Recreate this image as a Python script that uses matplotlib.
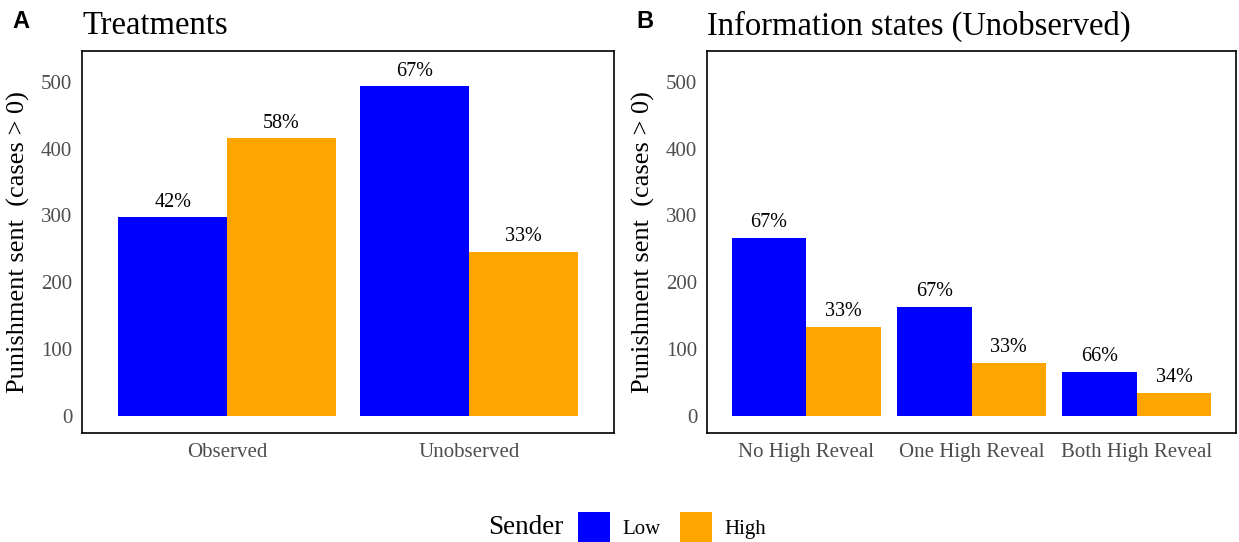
import numpy as np
import matplotlib
matplotlib.use('Agg')
import matplotlib.pyplot as plt
from matplotlib.patches import Patch

# punishment counts by sender type
TREATMENTS = ['Observed', 'Unobserved']
TREAT_LOW = [297, 493]
TREAT_HIGH = [415, 245]

STATES = ['No High Reveal', 'One High Reveal', 'Both High Reveal']
STATE_LOW = [266, 163, 66]
STATE_HIGH = [133, 79, 34]

SENDERS = ['Low', 'High']
COLORS = ['#0000FF', '#FFA500']
YTICKS = [0, 100, 200, 300, 400, 500]

SERIF = 'Liberation Serif'
GREY = '#4D4D4D'


def bar_panel(ax, cats, low, high, title):
    x = np.arange(len(cats))
    w = 0.45
    low = np.asarray(low, dtype=float)
    high = np.asarray(high, dtype=float)
    total = low + high
    for vals, off, col in ((low, -w / 2, COLORS[0]), (high, w / 2, COLORS[1])):
        ax.bar(x + off, vals, width=w, color=col)
        for xi, v, t in zip(x + off, vals, total):
            ax.annotate('{:.0f}%'.format(100 * v / t), (xi, v), xytext=(0, 4),
                        textcoords='offset points', ha='center', va='bottom',
                        family=SERIF, fontsize=14.5, color='black')
    ax.set_xlim(-0.6, len(cats) - 0.4)
    ax.set_ylim(-26, 546)
    ax.set_xticks(x)
    ax.set_xticklabels(cats, family=SERIF, fontsize=15, color=GREY)
    ax.set_yticks(YTICKS)
    ax.set_yticklabels([str(t) for t in YTICKS], family=SERIF, fontsize=15, color=GREY)
    ax.tick_params(length=0, pad=7)
    ax.set_ylabel('Punishment sent  (cases > 0)', family=SERIF, fontsize=19, labelpad=8)
    for s in ax.spines.values():
        s.set_linewidth(1.2)
        s.set_color('black')
    ax.set_title(title, family=SERIF, fontsize=23.5, loc='left', pad=12, x=0.0)
    return ax


fig = plt.figure(figsize=(12.39, 5.42), dpi=100)

ax1 = fig.add_axes([82 / 1239, 109 / 542, 532 / 1239, 382 / 542])
bar_panel(ax1, TREATMENTS, TREAT_LOW, TREAT_HIGH, 'Treatments')

ax2 = fig.add_axes([707 / 1239, 109 / 542, 529 / 1239, 382 / 542])
bar_panel(ax2, STATES, STATE_LOW, STATE_HIGH, 'Information states (Unobserved)')

fig.text(12 / 1239, 1 - 22 / 542, 'A', family='Liberation Sans', weight='bold',
         fontsize=17, va='center', ha='left')
fig.text(636 / 1239, 1 - 22 / 542, 'B', family='Liberation Sans', weight='bold',
         fontsize=17, va='center', ha='left')

# legend along the bottom
handles = [Patch(facecolor=c, edgecolor='none') for c in COLORS]
fig.legend(handles, SENDERS, loc='center left', bbox_to_anchor=(578 / 1239, 1 - 527.5 / 542),
           ncol=2, frameon=False, prop={'family': SERIF, 'size': 15},
           handlelength=1.54, handleheight=1.9, handletextpad=0.6, columnspacing=0.9,
           borderpad=0, borderaxespad=0)
fig.text(563 / 1239, 1 - 527 / 542, 'Sender', family=SERIF, fontsize=19.5,
         ha='right', va='center')

fig.savefig('out.png', dpi=100)
